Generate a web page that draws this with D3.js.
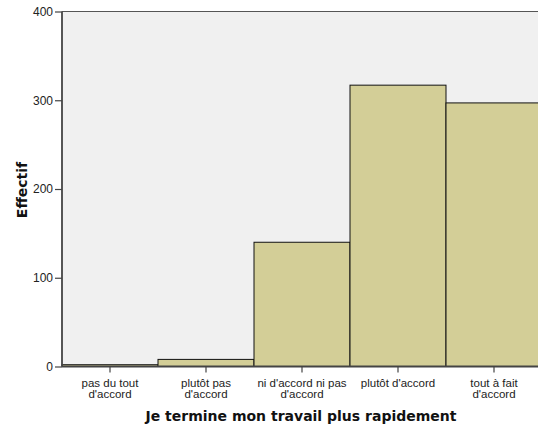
<!DOCTYPE html>
<html><head><meta charset="utf-8">
<script src="https://cdn.jsdelivr.net/npm/d3@7"></script>
<style>body{margin:0;background:#fff}svg{display:block}</style>
</head><body>
<svg id="c" width="538" height="425"></svg>
<script>
const categories = [["pas du tout","d'accord"],["plutôt pas","d'accord"],["ni d'accord ni pas","d'accord"],["plutôt d'accord"],["tout à fait","d'accord"]];
const values = [2, 8, 140, 317, 297];
const yTicks = [0, 100, 200, 300, 400];
const xTitle = "Je termine mon travail plus rapidement";
const yTitle = "Effectif";

(function(){
const svg = d3.select("#c");
const pL = 62, pR = 542, pT = 11.5, pB = 366.5;
const x = d3.scaleBand().domain(d3.range(categories.length)).range([pL, pR]).padding(0);
const y = d3.scaleLinear().domain([0, 400]).range([pB, pT]);

svg.append("rect").attr("x", pL).attr("y", pT).attr("width", 538 - pL).attr("height", pB - pT).attr("fill", "#f0f0f0");
svg.append("line").attr("x1", pL).attr("x2", 538).attr("y1", pT).attr("y2", pT).attr("stroke", "#555").attr("stroke-width", 1.2);

svg.selectAll("rect.bar").data(values).join("rect").attr("class", "bar")
  .attr("x", (d, i) => x(i)).attr("y", d => y(d))
  .attr("width", x.bandwidth()).attr("height", d => pB - y(d))
  .attr("fill", "#d3ce97").attr("stroke", "#111").attr("stroke-width", 1);

const ya = svg.append("g").attr("transform", `translate(${pL},0)`)
  .call(d3.axisLeft(y).tickValues(yTicks).tickSize(7).tickPadding(2).tickFormat(d3.format("d")));
ya.select(".domain").attr("stroke", "#444").attr("stroke-width", 1.8).attr("d", `M0,${pT}V${pB}`);
ya.selectAll(".tick line").attr("stroke", "#444").attr("stroke-width", 1.2);
ya.selectAll(".tick text").attr("font-family", "Arial, Liberation Sans, sans-serif").attr("font-size", 12).attr("fill", "#222");

const xa = svg.append("g").attr("transform", `translate(0,${pB})`)
  .call(d3.axisBottom(x).tickSize(6).tickFormat(""));
xa.select(".domain").attr("stroke", "#444").attr("stroke-width", 1.8).attr("d", `M${pL},0H538`);
xa.selectAll(".tick line").attr("stroke", "#444").attr("stroke-width", 1.2);
xa.selectAll(".tick").each(function(d) {
  const t = d3.select(this).append("text").attr("fill", "#222")
    .attr("font-family", "Arial, Liberation Sans, sans-serif").attr("font-size", 11.5)
    .attr("text-anchor", "middle").attr("y", 20.5);
  categories[d].forEach((s, k) => t.append("tspan").attr("x", 0).attr("dy", k === 0 ? 0 : 11).text(s));
});
svg.append("text").attr("x", 301).attr("y", 420.5).attr("text-anchor", "middle")
  .attr("font-family", "DejaVu Sans, sans-serif").attr("font-weight", "bold").attr("font-size", 14).attr("fill", "#111").text(xTitle);
svg.append("text").attr("transform", `translate(27,190) rotate(-90)`).attr("text-anchor", "middle")
  .attr("font-family", "DejaVu Sans, sans-serif").attr("font-weight", "bold").attr("font-size", 14).attr("fill", "#111").text(yTitle);
})();
</script>
</body></html>
